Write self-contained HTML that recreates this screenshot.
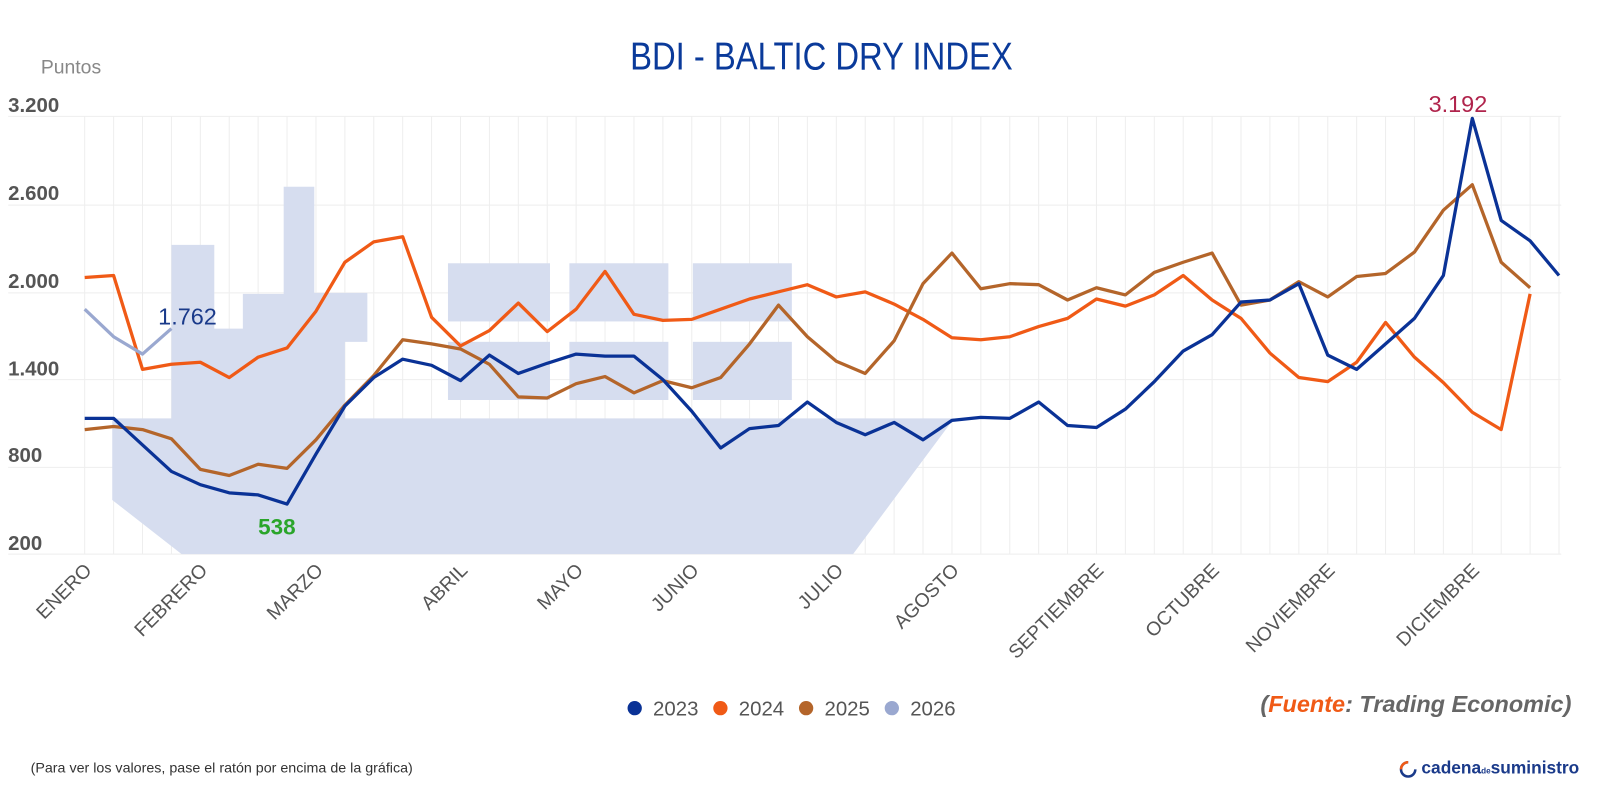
<!DOCTYPE html>
<html><head><meta charset="utf-8"><style>
html,body{margin:0;padding:0;background:#fff;width:1600px;height:800px;overflow:hidden}
svg{display:block}
text{font-family:"Liberation Sans",sans-serif}
</style></head><body>
<svg id="s" width="1600" height="800" viewBox="0 0 1568 784" preserveAspectRatio="none" xmlns="http://www.w3.org/2000/svg">
<rect width="1568" height="784" fill="#fff"/>
<g id="grid" stroke="#eeeeee" stroke-width="1"></g>
<g fill="#d6ddef">
<polygon points="110,410 168,410 168,240 210,240 210,322 238,322 238,288 278,288 278,183 308,183 308,287 360,287 360,335 338,335 338,410 935,410 836,543 178,543 110,490"/>
<rect x="439" y="258" width="100" height="57"/><rect x="439" y="335" width="100" height="57"/>
<rect x="558" y="258" width="97" height="57"/><rect x="558" y="335" width="97" height="57"/>
<rect x="679" y="258" width="97" height="57"/><rect x="679" y="335" width="97" height="57"/>
</g>
<g id="lines" fill="none" stroke-width="3.2" stroke-linejoin="round"></g>
<g font-size="20" fill="#555" font-weight="bold">
<text x="8" y="110">3.200</text><text x="8" y="196">2.600</text><text x="8" y="282">2.000</text>
<text x="8" y="368">1.400</text><text x="8" y="453">800</text><text x="8" y="539">200</text>
</g>
<text x="40" y="72" font-size="19" fill="#888">Puntos</text>
<text x="805" y="68" font-size="38" fill="#0a3a9a" text-anchor="middle" textLength="375" lengthAdjust="spacingAndGlyphs">BDI - BALTIC DRY INDEX</text>
<text x="155" y="318" font-size="23" fill="#1a3a8a">1.762</text>
<text x="253" y="524" font-size="22" fill="#2aa52a" font-weight="bold">538</text>
<text x="1400" y="110" font-size="23" fill="#b0244c">3.192</text>
<g id="xl" font-size="19" fill="#555" text-anchor="end"></g>
<g font-size="20" fill="#555">
<circle cx="622" cy="694" r="7" fill="#0a3296"/><text x="640" y="701">2023</text>
<circle cx="706" cy="694" r="7" fill="#f05a16"/><text x="724" y="701">2024</text>
<circle cx="790" cy="694" r="7" fill="#b4652a"/><text x="808" y="701">2025</text>
<circle cx="874" cy="694" r="7" fill="#9aa8d0"/><text x="892" y="701">2026</text>
</g>
<text x="1540" y="698" font-size="23" font-style="italic" font-weight="bold" fill="#666" text-anchor="end">(<tspan fill="#f05a16">Fuente</tspan>: Trading Economic)</text>
<text x="30" y="757" font-size="14" fill="#333">(Para ver los valores, pase el ratón por encima de la gráfica)</text>
<path d="M1380 747 a7 7 0 1 0 7 7" stroke="#1a3a8a" stroke-width="2.5" fill="none"/>
<path d="M1373 754 a7 7 0 0 1 7 -7" stroke="#f05a16" stroke-width="2.5" fill="none"/>
<text x="1393" y="758" font-size="17" fill="#1a3a8a" font-weight="600">cadena<tspan font-size="8">de</tspan>suministro</text>
</svg>
<script>
var X=i=>83+i*28.33;
var g=document.getElementById('grid'),ns='http://www.w3.org/2000/svg';
for(var i=0;i<52;i++){var l=document.createElementNS(ns,'line');l.setAttribute('x1',X(i));l.setAttribute('x2',X(i));l.setAttribute('y1',114);l.setAttribute('y2',543);g.appendChild(l);}
[114,201,287,372,458,543].forEach(function(y){var l=document.createElementNS(ns,'line');l.setAttribute('x1',8);l.setAttribute('x2',1530);l.setAttribute('y1',y);l.setAttribute('y2',y);g.appendChild(l);});
var S=[
["#f05a16",[272,270,362,357,355,370,350,341,305,257,237,232,311,339,324,297,325,303,266,308,314,313,303,293,286,279,291,286,298,313,331,333,330,320,312,293,300,289,270,294,312,346,370,374,355,316,350,375,404,421,288]],
["#b4652a",[421,418,421,430,460,466,455,459,431,397,368,333,337,342,357,389,390,376,369,385,373,380,370,337,299,330,354,366,334,278,248,283,278,279,294,282,289,267,257,248,299,294,276,291,271,268,247,206,181,257,282]],
["#0a3296",[410,410,436,462,475,483,485,494,445,398,370,352,358,373,348,366,356,347,349,349,372,403,439,420,417,394,414,426,414,431,412,409,410,394,417,419,401,374,344,328,296,294,278,348,362,337,312,270,116,216,236,270]],
["#9aa8d0",[303,330,347,322]]];
var L=document.getElementById('lines');
S.forEach(function(s){var p=document.createElementNS(ns,'polyline');p.setAttribute('stroke',s[0]);p.setAttribute('points',s[1].map((y,i)=>X(i)+','+y).join(' '));L.appendChild(p);});
var xl=document.getElementById('xl');
[["ENERO",0],["FEBRERO",4],["MARZO",8],["ABRIL",13],["MAYO",17],["JUNIO",21],["JULIO",26],["AGOSTO",30],["SEPTIEMBRE",35],["OCTUBRE",39],["NOVIEMBRE",43],["DICIEMBRE",48]].forEach(function(a){var t=document.createElementNS(ns,'text');var x=X(a[1])+8;t.setAttribute('x',x);t.setAttribute('y',560);t.setAttribute('transform','rotate(-45 '+x+' 560)');t.textContent=a[0];xl.appendChild(t);});
</script>
</body></html>
